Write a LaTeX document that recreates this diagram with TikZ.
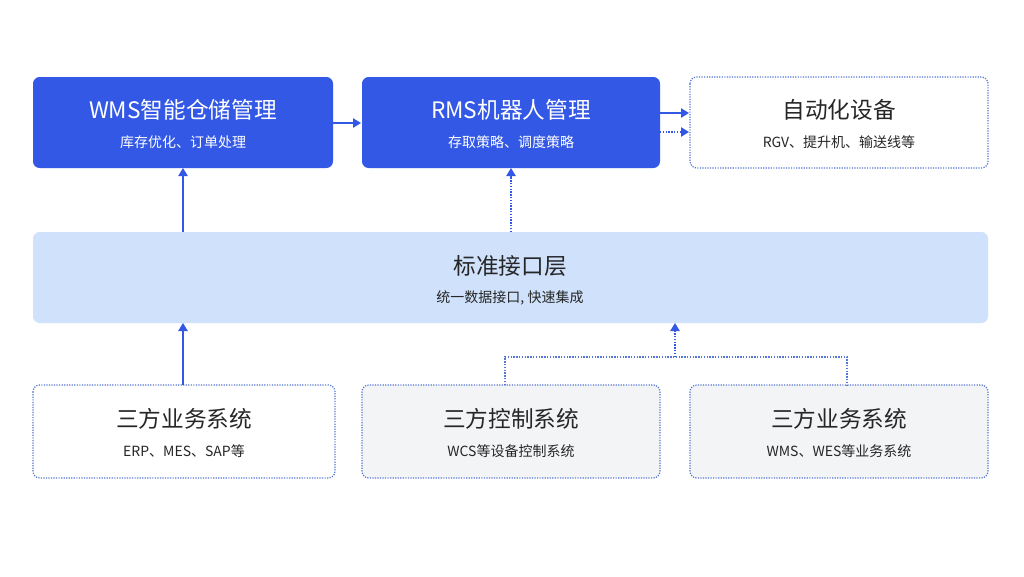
\documentclass[tikz,border=0pt]{standalone}
\usepackage{fontspec}
\setmainfont{Noto Sans CJK SC}
\usetikzlibrary{arrows.meta}
\definecolor{dblue}{HTML}{3358E6}
\definecolor{lblue}{HTML}{CFE1FB}
\definecolor{gfill}{HTML}{F3F4F6}
\definecolor{dline}{HTML}{5676D6}
\begin{document}
\begin{tikzpicture}[x=0.75pt,y=-0.75pt,
 solidbox/.style={fill=dblue,rounded corners=5pt},
 dotbox/.style={draw=dline,densely dotted,line width=0.9pt,rounded corners=5pt},
 ttl/.style={font=\fontsize{17}{19}\selectfont},
 sub/.style={font=\fontsize{10.5}{12}\selectfont},
 arr/.style={draw=dblue,line width=1.1pt,-{Triangle[length=6pt,width=7pt]}},
 darr/.style={arr,densely dotted},
 dl/.style={draw=dline,densely dotted,line width=1.1pt}]
\useasboundingbox (0,0) rectangle (1024,576);
\fill[white] (0,0) rectangle (1024,576);
% top row
\path[solidbox] (33,77) rectangle (333,168);
\node[ttl,white] (wms) at (183,110) {WMS智能仓储管理};
\node[sub,white] at (183,142) {库存优化、订单处理};
\path[solidbox] (362,77) rectangle (660,168);
\node[ttl,white] (rms) at (511,110) {RMS机器人管理};
\node[sub,white] at (511,142) {存取策略、调度策略};
\path[dotbox,fill=white] (690,77) rectangle (988,168);
\node[ttl,black!85] (auto) at (839,110) {自动化设备};
\node[sub,black!85] at (839,142) {RGV、提升机、输送线等};
% interface
\path[fill=lblue,rounded corners=5pt] (33,232) rectangle (988,323);
\node[ttl,black!85] (ifc) at (510,266) {标准接口层};
\node[sub,black!85] at (510,298) {统一数据接口, 快速集成};
% bottom
\path[dotbox,fill=white] (33,385) rectangle (335,478);
\node[ttl,black!85] (b1) at (184,419) {三方业务系统};
\node[sub,black!85] at (184,451) {ERP、MES、SAP等};
\path[dotbox,fill=gfill] (362,385) rectangle (660,478);
\node[ttl,black!85] (b2) at (511,419) {三方控制系统};
\node[sub,black!85] at (511,451) {WCS等设备控制系统};
\path[dotbox,fill=gfill] (690,385) rectangle (988,478);
\node[ttl,black!85] (b3) at (839,419) {三方业务系统};
\node[sub,black!85] at (839,451) {WMS、WES等业务系统};
% connectors
\coordinate (a1) at (333,123); \coordinate (a2) at (361,123);
\draw[arr] (a1) -- (a2);
\coordinate (r1) at (660,113); \coordinate (r2) at (689,113);
\draw[arr] (r1) -- (r2);
\coordinate (r3) at (660,132); \coordinate (r4) at (689,132);
\draw[darr] (r3) -- (r4);
\coordinate (u1) at (183,232); \coordinate (u2) at (183,168);
\draw[arr] (u1) -- (u2);
\coordinate (u3) at (511,232); \coordinate (u4) at (511,168);
\draw[darr] (u3) -- (u4);
\coordinate (l1) at (183,385); \coordinate (l2) at (183,323);
\draw[arr] (l1) -- (l2);
\coordinate (k1) at (505,385); \coordinate (k2) at (505,357);
\coordinate (k3) at (847,357); \coordinate (k4) at (847,385);
\draw[dl] (k1) -- (k2) -- (k3) -- (k4);
\coordinate (m1) at (675,357); \coordinate (m2) at (675,323);
\draw[darr] (m1) -- (m2);
\end{tikzpicture}
\end{document}
